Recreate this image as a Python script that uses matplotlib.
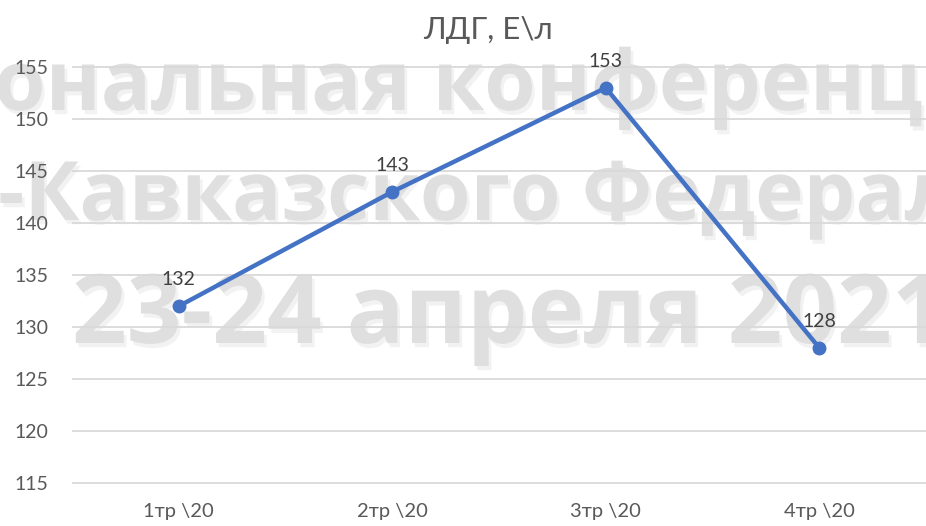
import matplotlib
matplotlib.use('Agg')
import matplotlib.pyplot as plt
import matplotlib.patheffects as pe

plt.rcParams['font.family'] = ['Lato', 'DejaVu Sans']

categories = ['1тр \\20', '2тр \\20', '3тр \\20', '4тр \\20']
values = [132, 143, 153, 128]
title = 'ЛДГ, Е\\л'
yticks = [115, 120, 125, 130, 135, 140, 145, 150, 155]

# watermark lines (text, x px, baseline y px, size pt)
watermark = [
    ('ональная конференция', -6, 110, 60),
    ('-Кавказского Федерального', -2, 220, 59),
    ('23-24 апреля 2021', 72, 343, 69),
]

W, H = 926, 526
fig = plt.figure(figsize=(W / 100, H / 100), dpi=100)
ax = fig.add_axes([72 / W, (H - 484) / H, 1 - 72 / W, (484 - 66) / H])
ax.patch.set_alpha(0)

for txt, x, y, s in watermark:
    fig.text(x / W, (H - y) / H, txt, fontsize=s, fontweight='bold',
             family=['Open Sans', 'DejaVu Sans'], color='#dfdfdf',
             ha='left', va='baseline', zorder=-1,
             path_effects=[pe.SimplePatchShadow(offset=(2, -3), shadow_rgbFace='#cccccc', alpha=0.25), pe.Normal()])

x = list(range(len(categories)))
ax.plot(x, values, color='#4472C4', lw=3.2, marker='o', ms=9, zorder=3)
for xi, v in zip(x, values):
    ax.annotate(str(v), (xi, v), xytext=(0, 13), textcoords='offset points',
                ha='center', va='bottom', fontsize=14, color='#404040', zorder=4)

ax.set_xlim(-0.5, 3.5)
ax.set_ylim(114.9, 155.1)
ax.set_yticks(yticks)
ax.set_xticks(x)
ax.set_xticklabels(categories)
ax.tick_params(axis='both', length=0, labelsize=14, labelcolor='#595959')
ax.tick_params(axis='x', labelsize=14.5, pad=14)
ax.tick_params(axis='y', pad=17)
ax.set_axisbelow(True)
ax.yaxis.grid(True, color='#d9d9d9', lw=1.3)
for sp in ax.spines.values():
    sp.set_visible(False)

fig.text(488 / W, (H - 30) / H, title, fontsize=22.5, color='#595959', ha='center', va='center')

fig.savefig('out.png', dpi=100)
